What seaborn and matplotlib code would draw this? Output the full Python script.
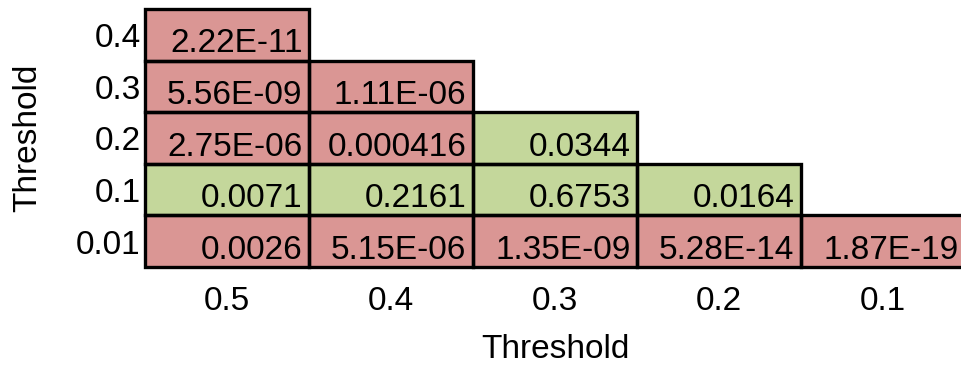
import numpy as np
import pandas as pd
import matplotlib
matplotlib.use("Agg")
import matplotlib.pyplot as plt
import matplotlib.transforms as mtransforms
from matplotlib.colors import ListedColormap
from matplotlib.patches import Rectangle
import seaborn as sns

# ---- data ----
row_labels = ["0.4", "0.3", "0.2", "0.1", "0.01"]
col_labels = ["0.5", "0.4", "0.3", "0.2", "0.1"]
row_04 = ["2.22E-11"]
row_03 = ["5.56E-09", "1.11E-06"]
row_02 = ["2.75E-06", "0.000416", "0.0344"]
row_01 = ["0.0071", "0.2161", "0.6753", "0.0164"]
row_001 = ["0.0026", "5.15E-06", "1.35E-09", "5.28E-14", "1.87E-19"]
alpha = 0.005
axis_title = "Threshold"

rows = [row_04, row_03, row_02, row_01, row_001]
n = len(col_labels)
text = [[r[j] if j < len(r) else "" for j in range(n)] for r in rows]
vals = np.array([[float(r[j]) if j < len(r) else np.nan for j in range(n)] for r in rows])
sig = np.where(np.isnan(vals), np.nan, (vals < alpha).astype(float))
df = pd.DataFrame(sig, index=row_labels, columns=col_labels)
mask = np.isnan(vals)

sns.set_theme(style="white")
plt.rcParams["font.family"] = ["Liberation Sans", "DejaVu Sans"]

FS = 24
fig = plt.figure(figsize=(9.61, 3.66), dpi=100)
W, H = 961, 366
ax = fig.add_axes([145 / W, (H - 267) / H, (965 - 145) / W, (267 - 9) / H])

green = "#C4D79B"
red = "#DA9694"
sns.heatmap(df, mask=mask, cmap=ListedColormap([green, red]), vmin=0, vmax=1,
            cbar=False, ax=ax, linewidths=0, square=False)

lw = 2.4
for i in range(n):
    for j in range(n):
        if not mask[i, j]:
            ax.add_patch(Rectangle((j, i), 1, 1, fill=False, edgecolor="black",
                                   linewidth=lw, clip_on=False, zorder=3))
            ax.text(j + 1 - 0.04, i + 1 - 0.16, text[i][j], ha="right",
                    va="baseline", fontsize=FS, color="black", zorder=4)

ax.tick_params(axis="both", length=0, labelsize=FS, colors="black")
ax.tick_params(axis="x", pad=14)
ax.tick_params(axis="y", pad=3)
ax.set_yticklabels(row_labels, rotation=0)
ax.set_xticklabels(col_labels, rotation=0)
off = mtransforms.ScaledTranslation(0, -4 / 100, fig.dpi_scale_trans)
for lab in ax.get_yticklabels():
    lab.set_transform(lab.get_transform() + off)
ax.set_xlabel(axis_title, fontsize=FS, color="black", labelpad=12)
ax.set_ylabel(axis_title, fontsize=FS, color="black", labelpad=24)
for s in ax.spines.values():
    s.set_visible(False)

fig.savefig("out.png", dpi=100)
